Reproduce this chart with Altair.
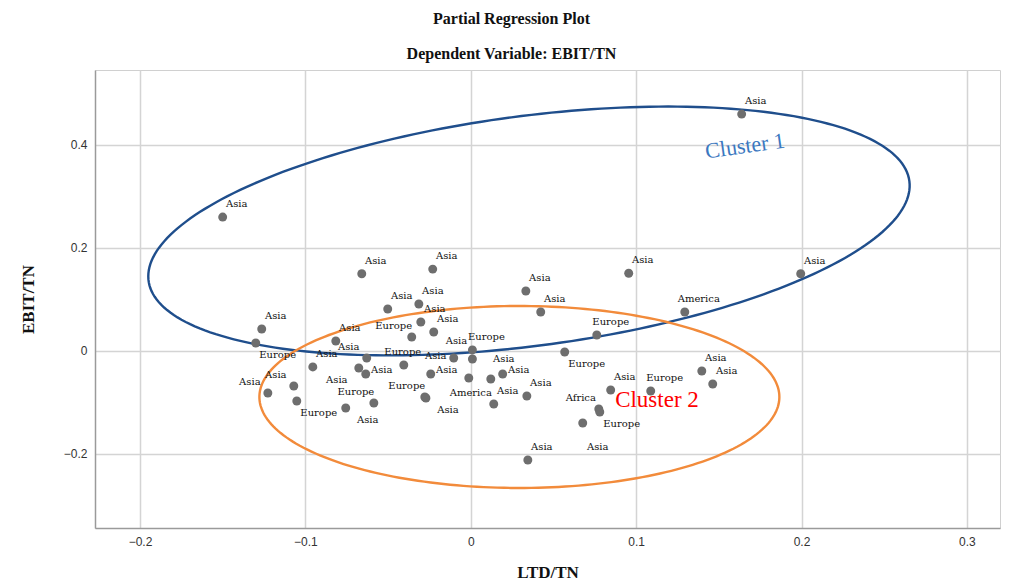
import altair as alt
import numpy as np
import pandas as pd

# ---- data ----
ltd_tn = [0.1638, -0.150, 0.1995, 0.0955, -0.0659, -0.023, 0.0333, 0.0423, 0.1294, 0.0762,
          -0.1264, -0.130, -0.0502, -0.0314, -0.0302, -0.0224, -0.0357, -0.0816, 0.001, 0.001,
          -0.0103, -0.0629, -0.0955, -0.0677, -0.0635, -0.0405, -0.0242, -0.0012, 0.0121, 0.0193,
          -0.107, -0.1227, -0.1052, -0.0586, -0.0278, -0.0756, 0.0139, 0.0568, 0.0339, 0.0846,
          0.1088, 0.1397, 0.1463, 0.0774, 0.078, 0.0677, 0.0345, -0.0271]
ebit_tn = [0.460, 0.260, 0.150, 0.151, 0.150, 0.159, 0.1165, 0.0757, 0.0757, 0.031,
           0.0427, 0.0155, 0.0816, 0.0913, 0.0563, 0.0369, 0.0272, 0.0194, 0.002, -0.0155,
           -0.0136, -0.0136, -0.031, -0.033, -0.0447, -0.0272, -0.0447, -0.0524, -0.0544, -0.0447,
           -0.068, -0.0816, -0.0971, -0.101, -0.0893, -0.1107, -0.103, -0.002, -0.0874, -0.0757,
           -0.0777, -0.0388, -0.0641, -0.1126, -0.1184, -0.1398, -0.2117, -0.0913]
region = ["Asia", "Asia", "Asia", "Asia", "Asia", "Asia", "Asia", "Asia", "America", "Europe",
          "Asia", "Europe", "Asia", "Asia", "Asia", "Asia", "Europe", "Asia", "Europe", "Asia",
          "Asia", "Asia", "Asia", "Asia", "Asia", "Europe", "Asia", "America", "Asia", "Asia",
          "Asia", "Asia", "Europe", "Europe", "Europe", "Asia", "Asia", "Europe", "Asia", "Asia",
          "Europe", "Asia", "Asia", "Africa", "Europe", "Asia", "Asia", "Asia"]
# side of each point on which its label sits (as in the reference)
label_side = ["NE", "NE", "NE", "NE", "NE", "NE", "NE", "NE", "NE", "NE",
              "NE", "SE", "NE", "NE", "NE", "NE", "NW", "NE", "NE", "NNW",
              "W", "NW", "NE", "SW", "E", "N", "E", "S", "NNE", "E",
              "NW", "NW", "SE", "NW", "NW", "SE", "NE", "SE", "NE", "NE",
              "NE", "NE", "NE", "NW", "SE", "SS", "NE", "SE"]

x_ticks = [-0.2, -0.1, 0, 0.1, 0.2, 0.3]
y_ticks = [-0.2, 0, 0.2, 0.4]
x_domain = [-0.2272, 0.320]
y_domain = [-0.3437, 0.5456]

# ellipse annotations: centre and two conjugate semi-diameters (data units)
c1_center = [0.0352, 0.233]
c1_semi_a = [0.230, 0.0969]
c1_semi_b = [0.0091, -0.2213]
c2_center = [0.0294, -0.0893]
c2_semi_a = [0.1572, 0.0]
c2_semi_b = [0.0, 0.1767]

cluster_names = ["Cluster 1", "Cluster 2"]
cluster_x = [0.1658, 0.1126]
cluster_y = [0.398, -0.0951]

# ---- tables ----
pts = pd.DataFrame({"x": ltd_tn, "y": ebit_tn, "region": region, "side": label_side})


def ellipse(center, a, b, n=240):
    t = np.linspace(0, 2 * np.pi, n)
    return pd.DataFrame({
        "x": center[0] + a[0] * np.cos(t) + b[0] * np.sin(t),
        "y": center[1] + a[1] * np.cos(t) + b[1] * np.sin(t),
        "o": np.arange(n),
    })


e1 = ellipse(c1_center, c1_semi_a, c1_semi_b)
e2 = ellipse(c2_center, c2_semi_a, c2_semi_b)

xs = alt.Scale(domain=x_domain, nice=False, zero=False)
ys = alt.Scale(domain=y_domain, nice=False, zero=False)

label_expr = "datum.value == 0 ? '0' : format(datum.value, '.1f')"

x_enc = alt.X("x:Q", scale=xs, title="LTD/TN",
              axis=alt.Axis(values=x_ticks, labelExpr=label_expr, titleY=44,
                            titleBaseline="middle"))
y_enc = alt.Y("y:Q", scale=ys, title="EBIT/TN",
              axis=alt.Axis(values=y_ticks, labelExpr=label_expr, titleX=-67, titleY=229,
                            titleAngle=270, titleAlign="center", titleBaseline="middle"))

points = alt.Chart(pts).mark_circle(size=80, color="#6e6e6e", opacity=1).encode(x=x_enc, y=y_enc)

side_offsets = {
    "NE": (14, -13), "NNE": (13, -20), "N": (-1, -13), "NNW": (-16, -18),
    "E": (16, -4), "SE": (22, 12), "S": (2, 15), "SS": (15, 24),
    "SW": (-22, 12), "W": (-18, -2), "NW": (-18, -11),
}
label_layers = []
for side, (ddx, ddy) in side_offsets.items():
    sub = pts[pts["side"] == side]
    if len(sub) == 0:
        continue
    label_layers.append(
        alt.Chart(sub).mark_text(
            font="DejaVu Serif", fontSize=10, color="#111111", dx=ddx, dy=ddy,
            align="center", baseline="middle"
        ).encode(x="x:Q", y="y:Q", text="region:N")
    )

ell1 = alt.Chart(e1).mark_line(color="#1f4e8c", strokeWidth=2.4).encode(
    x="x:Q", y="y:Q", order="o:Q")
ell2 = alt.Chart(e2).mark_line(color="#f28b3b", strokeWidth=2.4).encode(
    x="x:Q", y="y:Q", order="o:Q")

ctext = pd.DataFrame({"x": cluster_x, "y": cluster_y, "name": cluster_names})
c1t = alt.Chart(ctext.iloc[[0]]).mark_text(
    font="Liberation Serif", fontSize=22, color="#3b78c0", angle=352,
    align="center", baseline="middle"
).encode(x="x:Q", y="y:Q", text="name:N")
c2t = alt.Chart(ctext.iloc[[1]]).mark_text(
    font="Liberation Serif", fontSize=23, color="#ff0000",
    align="center", baseline="middle"
).encode(x="x:Q", y="y:Q", text="name:N")

chart = alt.layer(ell1, ell2, points, *label_layers, c1t, c2t).properties(
    width=905, height=458,
    autosize="none",
    padding={"left": 87, "top": 62, "right": 5, "bottom": 54},
    title=alt.TitleParams(
        text=["Partial Regression Plot", "Dependent Variable: EBIT/TN"],
        font="Liberation Serif", fontSize=16, fontWeight="bold", color="#111111",
        lineHeight=35, offset=8, anchor="middle", dx=-36,
    ),
).configure_view(
    stroke="#d0d0d0", strokeWidth=1
).configure_axis(
    domainColor="#9a9a9a", domainWidth=1.5,
    gridColor="#d4d4d4", gridWidth=1.5,
    ticks=False, labelFont="Liberation Sans", labelFontSize=12, labelColor="#333333",
    labelPadding=8,
    titleFont="Liberation Serif", titleFontSize=17, titleFontWeight="bold", titleColor="#111111",
)

chart.save("out.html", embed_options={"renderer": "svg", "actions": False})
